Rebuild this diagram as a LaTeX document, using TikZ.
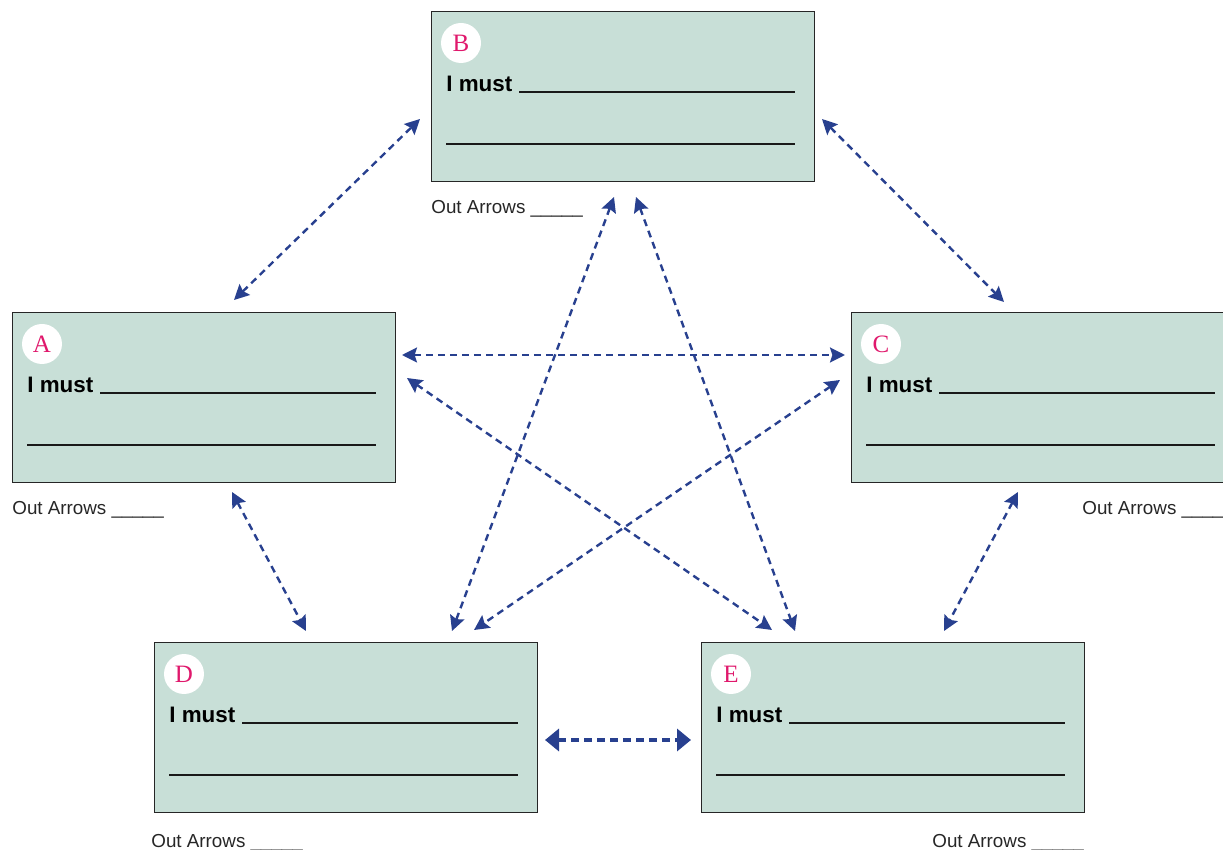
\documentclass[tikz,border=0pt]{standalone}
\usepackage{fontspec}
\setmainfont{Liberation Sans}
\newfontfamily\letterfont{Liberation Serif}
\usetikzlibrary{arrows.meta}
\definecolor{boxfill}{HTML}{C8DFD7}
\definecolor{arrblue}{HTML}{28408F}
\definecolor{lettermag}{HTML}{E0186C}
\tikzset{
  box/.style={draw=black!85, line width=0.65pt, fill=boxfill, rectangle, minimum width=191.5pt, minimum height=85pt, inner sep=0pt},
  circ/.style={circle, fill=white, minimum size=20pt, inner sep=0pt, text=lettermag, font=\letterfont\fontsize{12.5}{12.5}\selectfont},
  must/.style={font=\bfseries\fontsize{11.2}{12}\selectfont, inner sep=0pt},
  ul/.style={line width=0.9pt, black!90},
  outlbl/.style={font=\fontsize{9.4}{10}\selectfont, inner sep=0pt, text=black!85},
  link/.style={arrblue, line width=1.2pt, dash pattern=on 3.5pt off 2.5pt, {Stealth[length=7.5pt,width=7.5pt,inset=1.2pt]}-{Stealth[length=7.5pt,width=7.5pt,inset=1.2pt]}},
  biglink/.style={arrblue, line width=2pt, dash pattern=on 4pt off 2.5pt, {Triangle[length=7pt,width=11pt]}-{Triangle[length=7pt,width=11pt]}}
}
\begin{document}
\begin{tikzpicture}[x=0.5pt,y=-0.5pt]
\useasboundingbox (0,0) rectangle (1223,850);
\clip (0,0) rectangle (1223,850);
\foreach \n/\x/\y in {A/12/312, B/431/11, C/851/312, D/154/642, E/701/642}{
  \node[box, anchor=north west] (\n) at (\x,\y) {};
  \node[circ] (\n-c) at ([xshift=15pt,yshift=-16pt]\n.north west) {\n};
  \node[must, anchor=base west] (\n-m) at ([xshift=7.5pt,yshift=-40.5pt]\n.north west) {I must};
  \coordinate (\n-l1a) at ([xshift=44pt,yshift=-40.5pt]\n.north west);
  \coordinate (\n-l1b) at ([xshift=182pt,yshift=-40.5pt]\n.north west);
  \coordinate (\n-l2a) at ([xshift=7.5pt,yshift=-66.5pt]\n.north west);
  \coordinate (\n-l2b) at ([xshift=182pt,yshift=-66.5pt]\n.north west);
  \draw[ul] (\n-l1a) -- (\n-l1b);
  \draw[ul] (\n-l2a) -- (\n-l2b);
}
\node[outlbl, anchor=base west] (oB) at (431,214) {Out Arrows \_\_\_\_\_};
\node[outlbl, anchor=base west] (oA) at (12,515) {Out Arrows \_\_\_\_\_};
\node[outlbl, anchor=base west] (oC) at (1082,515) {Out Arrows \_\_\_\_\_};
\node[outlbl, anchor=base west] (oD) at (151,847) {Out Arrows \_\_\_\_\_};
\node[outlbl, anchor=base west] (oE) at (932,847) {Out Arrows \_\_\_\_\_};
% arrow end points
\coordinate (ab1) at (234,300); \coordinate (ab2) at (420,119);
\coordinate (bc1) at (822,119); \coordinate (bc2) at (1004,302);
\coordinate (ac1) at (402,355); \coordinate (ac2) at (845,355);
\coordinate (ae1) at (407,378); \coordinate (ae2) at (772,630);
\coordinate (cd1) at (840,380); \coordinate (cd2) at (474,630);
\coordinate (bd1) at (614,197); \coordinate (bd2) at (452,631);
\coordinate (be1) at (636,197); \coordinate (be2) at (795,631);
\coordinate (ad1) at (232,492); \coordinate (ad2) at (306,631);
\coordinate (ce1) at (1018,492); \coordinate (ce2) at (944,631);
\coordinate (de1) at (545,740); \coordinate (de2) at (691,740);
\draw[link] (ab1) -- (ab2);
\draw[link] (bc1) -- (bc2);
\draw[link] (ac1) -- (ac2);
\draw[link] (ae1) -- (ae2);
\draw[link] (cd1) -- (cd2);
\draw[link] (bd1) -- (bd2);
\draw[link] (be1) -- (be2);
\draw[link] (ad1) -- (ad2);
\draw[link] (ce1) -- (ce2);
\draw[biglink] (de1) -- (de2);
\end{tikzpicture}
\end{document}
